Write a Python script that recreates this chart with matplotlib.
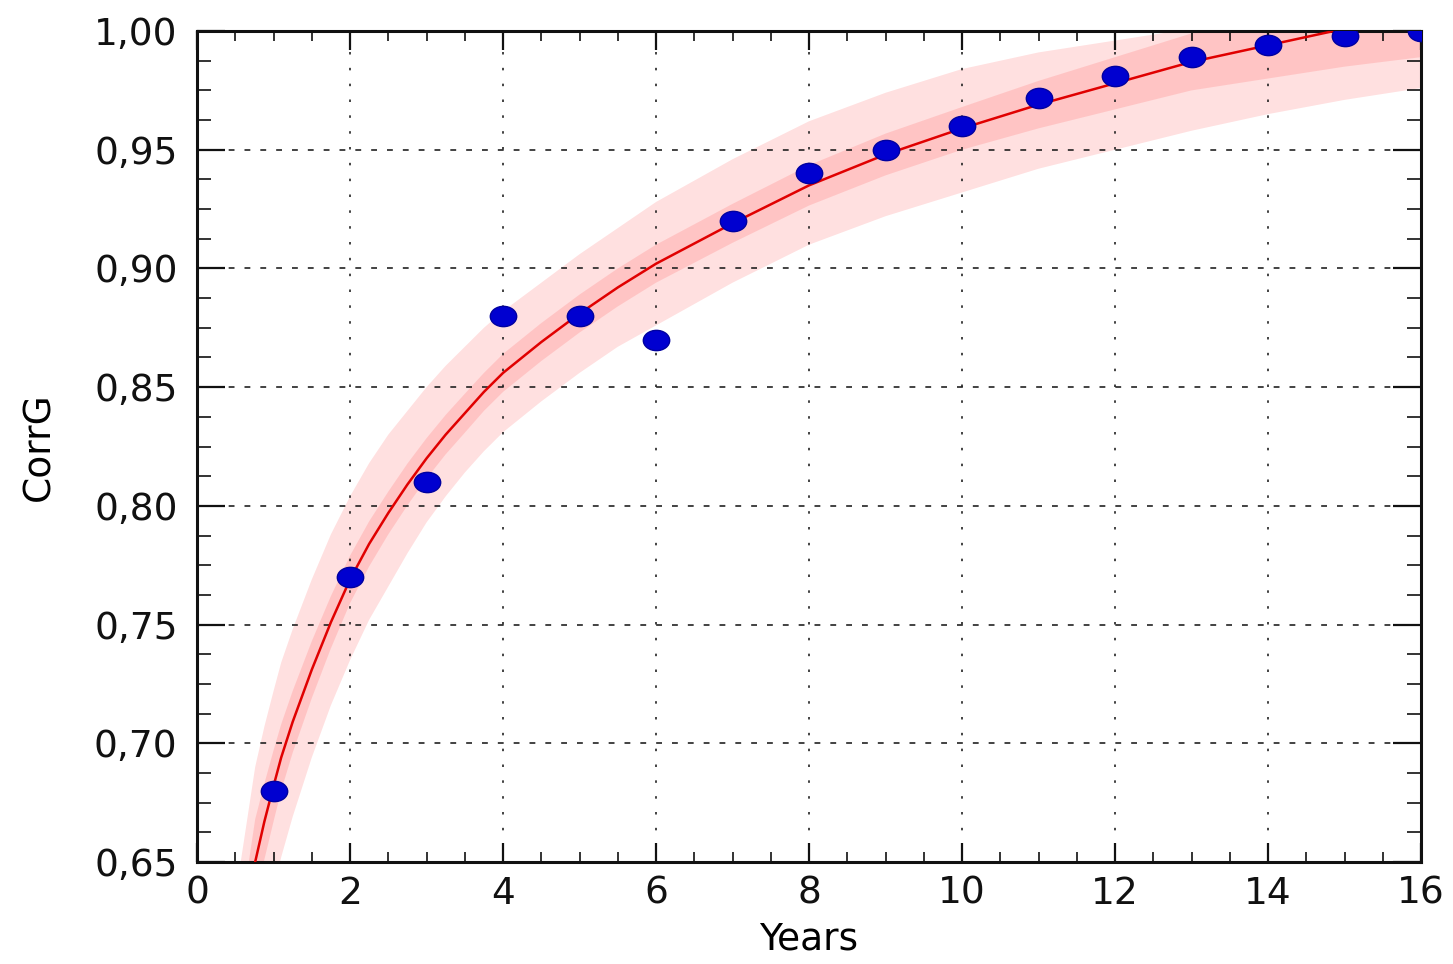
import numpy as np
import matplotlib
matplotlib.use('Agg')
import matplotlib.pyplot as plt
from matplotlib.path import Path
from matplotlib.transforms import Affine2D
from matplotlib.ticker import MultipleLocator, FixedLocator

# measured points
years = [1, 2, 3, 4, 5, 6, 7, 8, 9, 10, 11, 12, 13, 14, 15, 16]
corrg = [0.680, 0.770, 0.810, 0.880, 0.880, 0.870, 0.920, 0.940, 0.950, 0.960,
         0.972, 0.981, 0.989, 0.994, 0.998, 1.000]

# fitted curve and its two bands
fit_x = [0.5, 0.76, 0.88, 1.0, 1.1, 1.25, 1.5, 1.75, 2.0, 2.25, 2.5, 2.75, 3.0, 3.25,
         3.5, 3.75, 4.0, 4.5, 5.0, 5.5, 6.0, 7.0, 8.0, 9.0, 10.0, 11.0, 12.0, 13.0,
         14.0, 15.0, 16.0]
fit_y = [0.590, 0.650, 0.667, 0.682, 0.694, 0.709, 0.731, 0.751, 0.769, 0.784, 0.797,
         0.809, 0.820, 0.830, 0.839, 0.848, 0.856, 0.869, 0.881, 0.892, 0.902, 0.919,
         0.935, 0.948, 0.959, 0.969, 0.978, 0.987, 0.994, 1.001, 1.008]
outer_hi = [0.635, 0.690, 0.707, 0.722, 0.734, 0.748, 0.769, 0.788, 0.804, 0.818, 0.830,
            0.840, 0.850, 0.859, 0.867, 0.875, 0.882, 0.894, 0.906, 0.917, 0.928, 0.946,
            0.962, 0.974, 0.984, 0.991, 0.996, 1.001, 1.004, 1.006, 1.008]
outer_lo = [0.540, 0.600, 0.620, 0.638, 0.652, 0.669, 0.694, 0.716, 0.735, 0.752, 0.766,
            0.780, 0.793, 0.804, 0.814, 0.823, 0.831, 0.844, 0.856, 0.867, 0.876, 0.894,
            0.910, 0.922, 0.932, 0.942, 0.950, 0.958, 0.965, 0.971, 0.976]
inner_hi = [0.612, 0.668, 0.683, 0.697, 0.708, 0.722, 0.743, 0.762, 0.779, 0.7935, 0.806,
            0.8178, 0.8285, 0.8383, 0.8472, 0.856, 0.864, 0.877, 0.889, 0.900, 0.910,
            0.9272, 0.9435, 0.9568, 0.968, 0.979, 0.989, 0.999, 1.008, 1.017, 1.027]
inner_lo = [0.568, 0.632, 0.651, 0.667, 0.680, 0.696, 0.719, 0.740, 0.759, 0.7745, 0.788,
            0.8002, 0.8115, 0.8217, 0.8308, 0.840, 0.848, 0.861, 0.873, 0.884, 0.894,
            0.9108, 0.9265, 0.9392, 0.950, 0.959, 0.967, 0.975, 0.980, 0.985, 0.989]

y_ticks = [0.65, 0.70, 0.75, 0.80, 0.85, 0.90, 0.95, 1.00]
y_tick_labels = ['0,65', '0,70', '0,75', '0,80', '0,85', '0,90', '0,95', '1,00']
x_ticks = [0, 2, 4, 6, 8, 10, 12, 14, 16]

plt.rcParams['font.family'] = ['DejaVu Sans']

fig = plt.figure(figsize=(14.53, 9.64), dpi=100)
ax = fig.add_axes([0.1356, 0.1058, 0.8424, 0.862])

ax.fill_between(fit_x, outer_lo, outer_hi, color='#ff0000', alpha=0.12, lw=0)
ax.fill_between(fit_x, inner_lo, inner_hi, color='#ff0000', alpha=0.12, lw=0)
ax.plot(fit_x, fit_y, color='#e00000', lw=1.8, zorder=3)

ellipse = Path.unit_circle().transformed(Affine2D().scale(1.3, 1.0))
ax.plot(years, corrg, ls='none', marker=ellipse, ms=19, mfc='#0000d0',
        mec='#0000a0', mew=1.0, zorder=4)

ax.set_xlim(0, 16)
ax.set_ylim(0.65, 1.00)
ax.xaxis.set_major_locator(FixedLocator(x_ticks))
ax.xaxis.set_minor_locator(MultipleLocator(0.5))
ax.yaxis.set_major_locator(FixedLocator(y_ticks))
ax.set_yticklabels(y_tick_labels)
ax.yaxis.set_minor_locator(MultipleLocator(0.0125))

ax.tick_params(which='both', direction='in', top=True, right=True, labelsize=27, colors='#111111')
ax.tick_params(axis='y', which='major', length=20, width=1.6, pad=14)
ax.tick_params(axis='y', which='minor', length=10, width=1.2)
ax.tick_params(axis='x', which='major', length=14, width=1.6, pad=10)
ax.tick_params(axis='x', which='minor', length=7, width=1.2)

ax.xaxis.grid(True, which='major', color='#222222', lw=1.2, ls=(0, (1.5, 8)))
ax.yaxis.grid(True, which='major', color='#222222', lw=1.2, ls=(0, (3.5, 6)))

for sp in ax.spines.values():
    sp.set_linewidth(2.2)
    sp.set_color('#111111')

ax.set_xlabel('Years', fontsize=27, labelpad=7)
ax.set_ylabel('CorrG', fontsize=27, labelpad=26)

fig.savefig('out.png', dpi=100)
